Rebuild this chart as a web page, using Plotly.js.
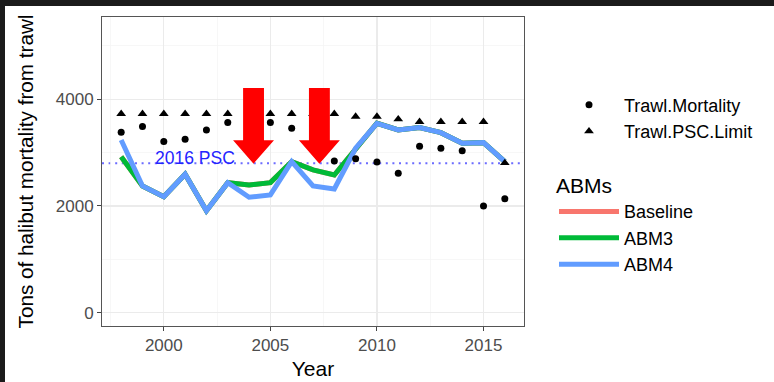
<!DOCTYPE html>
<html>
<head>
<meta charset="utf-8">
<script src="https://cdn.plot.ly/plotly-3.0.1.min.js"></script>
<style>
  html, body { margin: 0; padding: 0; background: #1b1b1b; }
  #frame { position: absolute; left: 0; top: 0; width: 774px; height: 382px; background: #1b1b1b; overflow: hidden; }
  #chart { position: absolute; left: 5px; top: 6px; width: 769px; height: 376px; background: #ffffff; }
</style>
</head>
<body>
<div id="frame"><div id="chart"></div></div>
<script>
// ---- data ----
const years = [1998, 1999, 2000, 2001, 2002, 2003, 2004, 2005, 2006, 2007, 2008, 2009, 2010, 2011, 2012, 2013, 2014, 2015, 2016];
const trawlMortality = [3381, 3486, 3205, 3250, 3424, 3561, 3500, 3561, 3456, 3400, 2843, 2886, 2824, 2612, 3118, 3081, 3036, 2000, 2136];
const trawlPSCLimit = [3725, 3725, 3725, 3725, 3725, 3725, 3725, 3725, 3725, 3725, 3725, 3675, 3675, 3625, 3575, 3575, 3575, 3575, 2805];
const baseline = [2923, 2374, 2174, 2594, 1911, 2436, 2393, 2436, 2830, 2674, 2580, 3081, 3549, 3424, 3467, 3373, 3175, 3186, 2830];
const abm3 = [2923, 2374, 2174, 2594, 1911, 2436, 2393, 2436, 2830, 2674, 2580, 3081, 3549, 3424, 3467, 3373, 3175, 3186, 2830];
const abm4 = [3236, 2374, 2174, 2594, 1911, 2436, 2163, 2206, 2830, 2374, 2318, 3081, 3549, 3424, 3467, 3373, 3175, 3186, 2830];
const psc2016 = 2800;
const xTickVals = [2000, 2005, 2010, 2015];
const yTickVals = [0, 2000, 4000];
const arrowYears = [2004.21, 2007.30];

const FONT = 'Liberation Sans, Arial, Helvetica, sans-serif';

function lineTrace(name, y, color) {
  return {
    type: 'scatter', mode: 'lines', name: name, x: years, y: y,
    line: { color: color, width: 5 }, legend: 'legend2', hoverinfo: 'skip'
  };
}

const traces = [
  lineTrace('Baseline', baseline, '#F8766D'),
  lineTrace('ABM3', abm3, '#00BA38'),
  lineTrace('ABM4', abm4, '#619CFF'),
  {
    type: 'scatter', mode: 'markers', name: 'Trawl.Mortality', x: years, y: trawlMortality,
    marker: { symbol: 'circle', size: 7, color: '#000000' }, legend: 'legend'
  },
  {
    type: 'scatter', mode: 'markers', name: 'Trawl.PSC.Limit', x: years, y: trawlPSCLimit,
    marker: { symbol: 'triangle-up', size: 8.5, color: '#000000' }, legend: 'legend'
  }
];

function arrowPath(xc) {
  const sh = 0.49, hh = 0.96, top = 4211, base = 3231, tip = 2792;
  return 'M' + (xc - sh) + ',' + top + ' L' + (xc + sh) + ',' + top + ' L' + (xc + sh) + ',' + base +
    ' L' + (xc + hh) + ',' + base + ' L' + xc + ',' + tip + ' L' + (xc - hh) + ',' + base +
    ' L' + (xc - sh) + ',' + base + ' Z';
}

const shapes = [
  {
    type: 'line', xref: 'paper', yref: 'y', x0: 0, x1: 1, y0: psc2016, y1: psc2016,
    line: { color: '#6b6bff', width: 2, dash: '2px,4.6px' }, layer: 'below'
  }
].concat(arrowYears.map(xc => ({
  type: 'path', xref: 'x', yref: 'y', path: arrowPath(xc),
  fillcolor: '#ff0000', line: { width: 0 }, layer: 'above'
})));

const axisCommon = {
  showline: true, mirror: true, linecolor: '#555555', linewidth: 1,
  ticks: 'outside', ticklen: 4, tickcolor: '#444444', tickwidth: 1,
  tickfont: { family: FONT, size: 17, color: '#4d4d4d' },
  showgrid: true, gridcolor: '#ebebeb', gridwidth: 1.2,
  zeroline: false, fixedrange: true
};

const layout = {
  width: 769, height: 376,
  margin: { l: 97, r: 250, t: 11, b: 56 },
  paper_bgcolor: '#ffffff', plot_bgcolor: '#ffffff',
  font: { family: FONT, color: '#000000' },
  xaxis: Object.assign({}, axisCommon, {
    range: [1997.1, 2016.9], tickmode: 'array', tickvals: xTickVals,
    minor: { tick0: 1997.5, dtick: 2.5, showgrid: true, gridcolor: '#f4f4f4', gridwidth: 0.7, ticks: '' },
    title: { text: 'Year', font: { family: FONT, size: 21, color: '#000000' }, standoff: 6 }
  }),
  yaxis: Object.assign({}, axisCommon, {
    range: [-250, 5540], tickmode: 'array', tickvals: yTickVals,
    minor: { tick0: 1000, dtick: 2000, showgrid: true, gridcolor: '#f4f4f4', gridwidth: 0.7, ticks: '' },
    title: { text: 'Tons of halibut mortality from trawl', font: { family: FONT, size: 20.7, color: '#000000' }, standoff: 16 }
  }),
  showlegend: true,
  legend: {
    x: 1.0711, xanchor: 'left', y: 0.775, yanchor: 'top',
    font: { family: FONT, size: 18, color: '#000000' },
    itemwidth: 60, bgcolor: 'rgba(0,0,0,0)', borderwidth: 0,
    traceorder: 'normal'
  },
  legend2: {
    x: 1.0711, xanchor: 'left', y: 0.518, yanchor: 'top',
    title: { text: 'ABMs', font: { family: FONT, size: 21, color: '#000000' } },
    font: { family: FONT, size: 18, color: '#000000' },
    itemwidth: 60, bgcolor: 'rgba(0,0,0,0)', borderwidth: 0,
    traceorder: 'normal'
  },
  shapes: shapes,
  annotations: [
    {
      x: 2001.47, y: 2900, xref: 'x', yref: 'y', text: '2016 PSC', showarrow: false,
      font: { family: FONT, size: 17.5, color: '#2424ff' }, xanchor: 'center', yanchor: 'middle'
    }
  ]
};

Plotly.newPlot('chart', traces, layout, { staticPlot: true, displayModeBar: false });
</script>
</body>
</html>
